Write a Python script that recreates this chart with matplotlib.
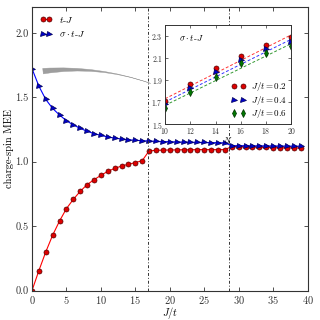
import matplotlib
matplotlib.use("Agg")
import matplotlib.pyplot as plt
import numpy as np
from matplotlib.patches import FancyArrowPatch

plt.rcParams['font.family'] = ['cmr10']
plt.rcParams['mathtext.fontset'] = 'cm'
plt.rcParams['axes.unicode_minus'] = False
plt.rcParams['axes.formatter.use_mathtext'] = True

# ---------------- data ----------------
J = list(range(0, 40))
tJ = [0.0, 0.155, 0.30, 0.43, 0.54, 0.636, 0.708, 0.77, 0.822, 0.86,
      0.894, 0.925, 0.948, 0.966, 0.98, 0.993, 1.008,
      1.084, 1.088, 1.090, 1.091, 1.092, 1.093, 1.093, 1.094, 1.094, 1.094, 1.094, 1.094,
      1.117, 1.116, 1.115, 1.114, 1.112, 1.111, 1.110, 1.109, 1.108, 1.108, 1.107]
sig_tJ = [1.722, 1.586, 1.483, 1.413, 1.362, 1.318, 1.285, 1.259, 1.236, 1.218,
          1.204, 1.192, 1.183, 1.176, 1.170, 1.166, 1.163,
          1.160, 1.158, 1.156, 1.155, 1.153, 1.152, 1.151, 1.150, 1.149, 1.148, 1.147, 1.146,
          1.125, 1.124, 1.124, 1.123, 1.123, 1.122, 1.122, 1.121, 1.121, 1.120, 1.120]
band_tJ = 0.006
band_sig = 0.006
transitions = [16.9, 28.6]

N = [10, 12, 14, 16, 18, 20]
mee_02 = [1.706, 1.863, 2.005, 2.122, 2.220, 2.290]
mee_04 = [1.678, 1.823, 1.968, 2.080, 2.180, 2.245]
mee_06 = [1.648, 1.795, 1.930, 2.050, 2.143, 2.210]
fitN = [10, 20]
fit_02 = [1.73, 2.31]
fit_04 = [1.70, 2.27]
fit_06 = [1.67, 2.23]

# ---------------- figure ----------------
fig = plt.figure(figsize=(3.2, 3.2), dpi=100)
ax = fig.add_axes([0.100, 0.092, 0.861, 0.886])

Jarr = np.array(J)
ax.fill_between(Jarr[29:], np.array(tJ[29:]) - band_tJ, np.array(tJ[29:]) + band_tJ,
                color='#ff8080', alpha=0.35, lw=0)
ax.fill_between(Jarr[16:], np.array(sig_tJ[16:]) - band_sig, np.array(sig_tJ[16:]) + band_sig,
                color='#8080ff', alpha=0.35, lw=0)

ax.plot(J, tJ, '-', color='red', lw=0.8, marker='o', ms=3.6,
        mfc='#dd0000', mec='#550000', mew=0.5, label=r'$t$-$J$')
ax.plot(J, sig_tJ, '-', color='blue', lw=0.8, marker='>', ms=3.6,
        mfc='#0000cc', mec='#000055', mew=0.5, label=r'$\sigma\cdot t$-$J$')

for xv in transitions:
    ax.axvline(xv, color='#333333', lw=0.7, ls=(0, (3, 2, 1, 2)))

ax.set_xlim(0, 40)
ax.set_ylim(0, 2.2)
ax.set_xticks([0, 5, 10, 15, 20, 25, 30, 35, 40])
ax.set_yticks([0.0, 0.5, 1.0, 1.5, 2.0])
ax.set_yticklabels(['0.0', '0.5', '1.0', '1.5', '2.0'])
ax.tick_params(direction='in', top=True, right=True, labelsize=7.5, length=3,
               width=0.6, pad=2.5, colors='#333333', labelcolor='#333333')
for s in ax.spines.values():
    s.set_linewidth(0.8)
    s.set_color('#333333')
ax.set_xlabel(r'$J/t$', fontsize=7.5, labelpad=-1)
ax.set_ylabel('charge-spin MEE', fontsize=7.5, labelpad=1)

leg = ax.legend(loc='upper left', frameon=False, fontsize=7, numpoints=2,
                handlelength=1.3, handletextpad=0.7, borderaxespad=0.4,
                labelspacing=0.45)

arr = FancyArrowPatch((1.2, 1.70), (17.6, 1.60),
                      arrowstyle='wedge,tail_width=0.4,shrink_factor=0.25',
                      mutation_scale=10,
                      connectionstyle='arc3,rad=-0.12',
                      color='#999999', alpha=0.95, lw=0.3, zorder=2)
ax.add_patch(arr)

# ---------------- inset ----------------
axi = fig.add_axes([0.516, 0.6125, 0.394, 0.3095])
axi.set_facecolor('white')
axi.set_zorder(5)
axi.plot(fitN, fit_02, '--', color='red', lw=0.7, alpha=0.8, dashes=(3, 2))
axi.plot(fitN, fit_04, '--', color='blue', lw=0.7, alpha=0.8, dashes=(3, 2))
axi.plot(fitN, fit_06, '--', color='green', lw=0.7, alpha=0.8, dashes=(3, 2))
axi.plot(N, mee_02, 'o', ls='none', ms=3.6, mfc='#dd0000', mec='#550000', mew=0.5,
         label=r'$J/t=0.2$')
axi.plot(N, mee_04, '>', ls='none', ms=3.6, mfc='#0000cc', mec='#000055', mew=0.5,
         label=r'$J/t=0.4$')
axi.plot(N, mee_06, 'd', ls='none', ms=3.6, mfc='#007700', mec='#003300', mew=0.5,
         label=r'$J/t=0.6$')
axi.set_xlim(10, 20)
axi.set_ylim(1.5, 2.4)
axi.set_xticks([10, 12, 14, 16, 18, 20])
axi.set_yticks([1.5, 1.7, 1.9, 2.1, 2.3])
axi.tick_params(direction='in', top=True, right=True, labelsize=5.5, length=2,
                width=0.5, pad=1.5, colors='#333333', labelcolor='#333333')
for s in axi.spines.values():
    s.set_linewidth(0.7)
    s.set_color('#333333')
axi.set_xlabel(r'$N$', fontsize=6, labelpad=-1)
axi.text(11.1, 2.25, r'$\sigma\cdot t$-$J$', fontsize=6.5)
axi.legend(loc='lower right', frameon=False, fontsize=6.5, numpoints=2,
           handlelength=1.6, handletextpad=0.6, labelspacing=0.05,
           bbox_to_anchor=(1.0, 0.0), borderaxespad=0.2, borderpad=0.2)

fig.savefig('out.png', dpi=100)
